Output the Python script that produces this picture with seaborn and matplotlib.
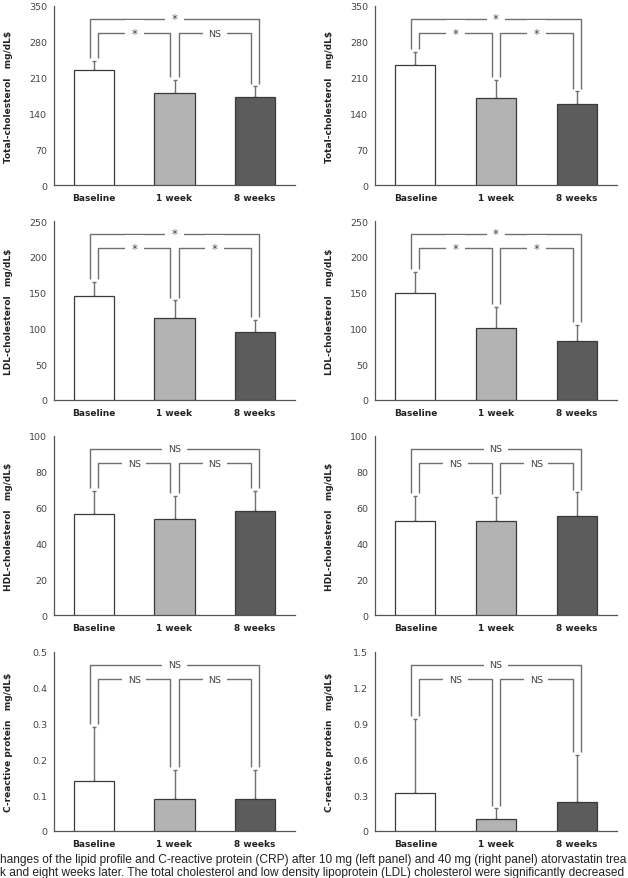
import numpy as np
import pandas as pd
import matplotlib
matplotlib.use("Agg")
import matplotlib.pyplot as plt
import seaborn as sns

# --- data (mean and upper SD) ---
periods = ["Baseline", "1 week", "8 weeks"]
bar_colors = ["#ffffff", "#b3b3b3", "#5c5c5c"]

total_10_mean = [225, 180, 172]
total_10_sd = [18, 26, 21]
total_40_mean = [234, 171, 159]
total_40_sd = [27, 34, 24]

ldl_10_mean = [145, 115, 95]
ldl_10_sd = [20, 24, 17]
ldl_40_mean = [149, 101, 82]
ldl_40_sd = [30, 29, 23]

hdl_10_mean = [56.5, 53.5, 58]
hdl_10_sd = [13, 13, 11.5]
hdl_40_mean = [52.5, 52.5, 55.5]
hdl_40_sd = [14, 13.5, 13]

crp_10_mean = [0.14, 0.09, 0.09]
crp_10_sd = [0.15, 0.08, 0.08]
crp_40_mean = [0.32, 0.10, 0.24]
crp_40_sd = [0.62, 0.09, 0.40]

# significance: (baseline vs 8 weeks, baseline vs 1 week, 1 week vs 8 weeks)
sig_total_10 = ["*", "*", "NS"]
sig_total_40 = ["*", "*", "*"]
sig_ldl_10 = ["*", "*", "*"]
sig_ldl_40 = ["*", "*", "*"]
sig_hdl_10 = ["NS", "NS", "NS"]
sig_hdl_40 = ["NS", "NS", "NS"]
sig_crp_10 = ["NS", "NS", "NS"]
sig_crp_40 = ["NS", "NS", "NS"]

ylabels = ["Total-cholesterol   mg/dL$", "LDL-cholesterol   mg/dL$",
           "HDL-cholesterol   mg/dL$", "C-reactive protein   mg/dL$"]

caption_1 = ("hanges of the lipid profile and C-reactive protein (CRP) after 10 mg "
             "(left panel) and 40 mg (right panel) atorvastatin trea")
caption_2 = ("k and eight weeks later. The total cholesterol and low density "
             "lipoprotein (LDL) cholesterol were significantly decreased")

sns.set_style("white")
plt.rcParams["font.family"] = ["DejaVu Sans"]

panels = [
    # row, col, mean, sd, sig, ymax, step
    (0, 0, total_10_mean, total_10_sd, sig_total_10, 350, 70),
    (0, 1, total_40_mean, total_40_sd, sig_total_40, 350, 70),
    (1, 0, ldl_10_mean, ldl_10_sd, sig_ldl_10, 250, 50),
    (1, 1, ldl_40_mean, ldl_40_sd, sig_ldl_40, 250, 50),
    (2, 0, hdl_10_mean, hdl_10_sd, sig_hdl_10, 100, 20),
    (2, 1, hdl_40_mean, hdl_40_sd, sig_hdl_40, 100, 20),
    (3, 0, crp_10_mean, crp_10_sd, sig_crp_10, 0.5, 0.1),
    (3, 1, crp_40_mean, crp_40_sd, sig_crp_40, 1.5, 0.3),
]

W, H = 628, 879
fig = plt.figure(figsize=(W / 100, H / 100), dpi=100)

col_left = [54, 375]
col_width = [241, 242]
row_top = [7, 222, 437, 653]
ax_h = 179

line_col = "#707070"
text_col = "#444444"

for row, col, mean, sd, sig, ymax, step in panels:
    ax = fig.add_axes([col_left[col] / W, 1 - (row_top[row] + ax_h) / H,
                       col_width[col] / W, ax_h / H])
    df = pd.DataFrame({"period": periods, "value": mean})
    sns.barplot(data=df, x="period", y="value", hue="period", palette=bar_colors,
                order=periods, hue_order=periods, width=0.5, errorbar=None,
                edgecolor="#3a3a3a", linewidth=0.9, legend=False, ax=ax, zorder=3)
    pos = np.arange(len(periods))
    ax.errorbar(pos, mean, yerr=[np.zeros(3), sd], fmt="none", ecolor=line_col,
                elinewidth=1.0, capsize=1.6, capthick=1.0, zorder=2)

    ax.set_xlim(-0.5, 2.5)
    ax.set_ylim(0, ymax)
    ticks = np.round(np.arange(0, ymax + step / 2, step), 3)
    ax.set_yticks(ticks)
    ax.set_yticklabels([f"{t:g}" for t in ticks])
    ax.set_xticks(pos)
    ax.set_xticklabels(periods, fontweight="bold", fontsize=6.5, color="#222222")
    ax.set_xticks([0.5, 1.5, 2.5], minor=True)
    ax.tick_params(axis="x", which="major", length=0, pad=6)
    ax.tick_params(axis="x", which="minor", direction="in", length=3,
                   width=0.8, color="#555555")
    ax.tick_params(axis="y", direction="in", length=2.5, width=0.8,
                   color="#555555", labelsize=6.8, labelcolor=text_col, pad=5)
    ax.set_xlabel("")
    ax.set_ylabel(ylabels[row], fontsize=6.5, fontweight="bold", color="#222222")
    ax.yaxis.set_label_coords(-0.17, 0.5)
    sns.despine(ax=ax)
    for s in ["left", "bottom"]:
        ax.spines[s].set_color("#555555")
        ax.spines[s].set_linewidth(0.9)

    # significance brackets
    outer = 0.93 * ymax
    inner = 0.847 * ymax
    gap = 0.015 * ymax
    off = 0.05
    tops = [m + s + gap for m, s in zip(mean, sd)]
    kw = dict(color=line_col, lw=1.0, zorder=4, solid_capstyle="butt")
    # baseline vs 8 weeks
    ax.plot([0 - off, 0 - off, 2 + off, 2 + off],
            [tops[0], outer, outer, tops[2]], **kw)
    # baseline vs 1 week
    ax.plot([0 + off, 0 + off, 1 - off, 1 - off],
            [tops[0], inner, inner, tops[1]], **kw)
    # 1 week vs 8 weeks
    ax.plot([1 + off, 1 + off, 2 - off, 2 - off],
            [tops[1], inner, inner, tops[2]], **kw)
    for x, y, lab in [(1.0, outer, sig[0]), (0.5, inner, sig[1]), (1.5, inner, sig[2])]:
        if lab == "*":
            ax.text(x, y, lab, ha="center", va="center", fontsize=8.5,
                    color=text_col, zorder=5,
                    bbox=dict(boxstyle="square,pad=0.55", fc="white", ec="none"))
        else:
            ax.text(x, y, lab, ha="center", va="center", fontsize=6.8,
                    color=text_col, zorder=5,
                    bbox=dict(boxstyle="square,pad=0.6", fc="white", ec="none"))

fig.text(0.0, 1 - 860 / H, caption_1, ha="left", va="center", fontsize=8.6,
         family=["Liberation Sans"], color="#222222")
fig.text(0.0, 1 - 873 / H, caption_2, ha="left", va="center", fontsize=8.6,
         family=["Liberation Sans"], color="#222222")

fig.savefig("out.png", dpi=100)
